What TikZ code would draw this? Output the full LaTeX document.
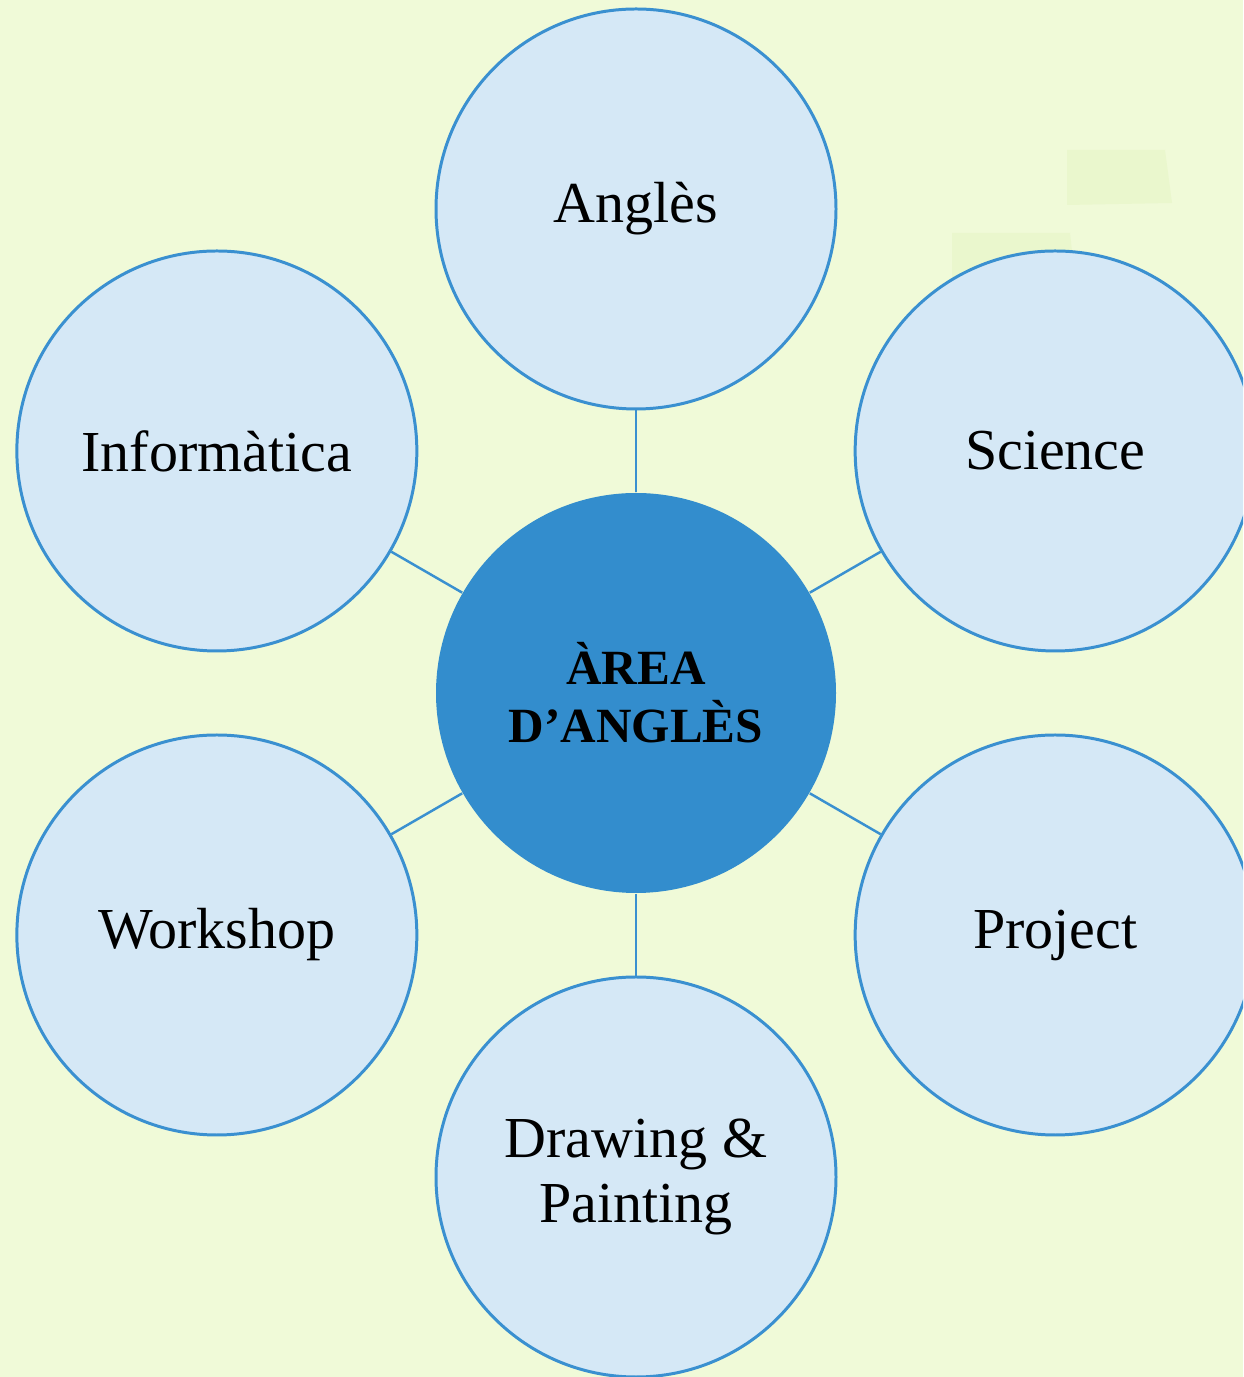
\documentclass[tikz,border=0pt]{standalone}
\usepackage{fontspec}
\setmainfont{Liberation Serif}
\usetikzlibrary{positioning}
\definecolor{bgGreen}{HTML}{F0FAD8}
\definecolor{patchGreen}{HTML}{EAF7CD}
\definecolor{ringBlue}{HTML}{3A90D0}
\definecolor{hubBlue}{HTML}{338DCD}
\definecolor{leafBlue}{HTML}{D5E8F6}
\begin{document}
\begin{tikzpicture}[every node/.style={circle,minimum size=4cm,inner sep=0pt,align=center,anchor=center},
leaf/.style={draw=ringBlue,line width=0.85pt,fill=leafBlue,font=\fontsize{16.5}{18.5}\selectfont},
hub/.style={fill=hubBlue,font=\fontsize{14}{16.5}\selectfont\bfseries},
link/.style={draw=ringBlue,line width=0.7pt}]
\clip (0,0) rectangle (12.43,13.77);
\fill[bgGreen] (0,0) rectangle (12.43,13.77);
\fill[patchGreen] (10.67,12.27) -- (11.65,12.27) -- (11.72,11.74) -- (10.67,11.72) -- cycle;
\fill[patchGreen] (9.52,11.44) -- (10.70,11.44) -- (10.77,10.8) -- (9.52,10.8) -- cycle;
\node[hub] (area) at (6.36,6.84) {ÀREA\\D’ANGLÈS};
\node[leaf] (angles) at ([shift={(90:4.84)}]area.center) {Anglès};
\node[leaf] (science) at ([shift={(30:4.84)}]area.center) {Science};
\node[leaf] (project) at ([shift={(-30:4.84)}]area.center) {Project};
\node[leaf] (drawing) at ([shift={(-90:4.84)}]area.center) {Drawing \&\\Painting};
\node[leaf] (workshop) at ([shift={(-150:4.84)}]area.center) {Workshop};
\node[leaf] (informatica) at ([shift={(150:4.84)}]area.center) {Informàtica};
\foreach \n in {angles,science,project,drawing,workshop,informatica}
  \draw[link] (area) -- (\n);
\end{tikzpicture}
\end{document}
